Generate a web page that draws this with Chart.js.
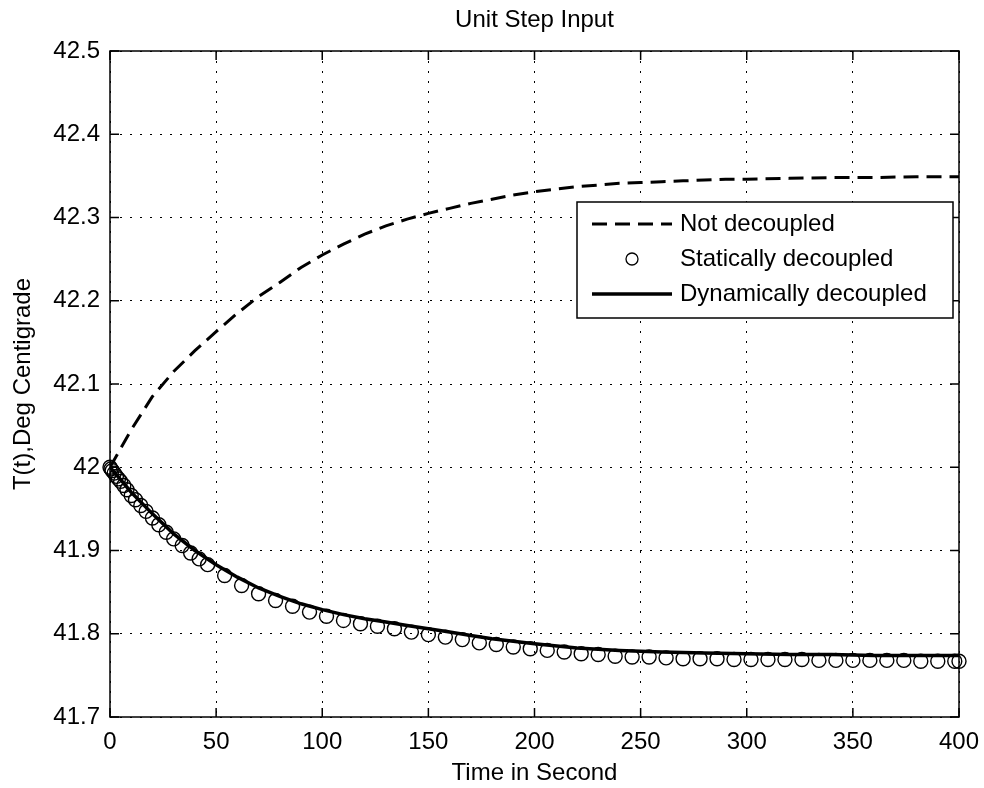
<!DOCTYPE html>
<html>
<head>
<meta charset="utf-8">
<script src="https://cdn.jsdelivr.net/npm/chart.js@4/dist/chart.umd.min.js"></script>
<style>
  html, body { margin: 0; padding: 0; background: #fff; }
  #wrap { width: 984px; height: 788px; }
</style>
</head>
<body>
<div id="wrap"><canvas id="chart" width="984" height="788"></canvas></div>
<script>
// values
const notTime = [0, 10, 20, 30, 40, 50, 60, 70, 80, 90, 100, 110, 120, 130, 140, 150, 160, 170, 180, 190, 200,
  210, 220, 230, 240, 250, 260, 270, 280, 290, 300, 320, 340, 360, 380, 400];
const notDecoupled = [42.000, 42.045, 42.085, 42.115, 42.140, 42.163, 42.185, 42.205, 42.222, 42.240, 42.255,
  42.268, 42.280, 42.290, 42.298, 42.305, 42.311, 42.317, 42.322, 42.327, 42.331,
  42.334, 42.337, 42.339, 42.341, 42.342, 42.343, 42.344, 42.345, 42.346, 42.346, 42.347, 42.348, 42.348, 42.349, 42.349];

const staticTime = [0, 0.5, 1, 2, 3, 4, 5, 6.5, 8, 10, 12, 14.5, 17, 20, 23, 26.5, 30, 34, 38, 42, 46,
  54, 62, 70, 78, 86, 94, 102, 110, 118, 126, 134, 142, 150, 158, 166, 174, 182, 190, 198,
  206, 214, 222, 230, 238, 246, 254, 262, 270, 278, 286, 294, 302, 310, 318, 326, 334, 342,
  350, 358, 366, 374, 382, 390, 398, 400];
const staticDecoupled = [42.000, 41.998, 41.996, 41.993, 41.989, 41.986, 41.983, 41.978, 41.973, 41.966, 41.961,
  41.954, 41.947, 41.939, 41.931, 41.922, 41.914, 41.906, 41.897, 41.890, 41.883,
  41.870, 41.858, 41.848, 41.840, 41.833, 41.826, 41.821, 41.816, 41.812, 41.809, 41.806, 41.802, 41.799,
  41.796, 41.793, 41.789, 41.787, 41.784, 41.782, 41.780, 41.778, 41.776, 41.775, 41.773, 41.772,
  41.772, 41.771, 41.770, 41.770, 41.770, 41.769, 41.769, 41.769, 41.769, 41.769, 41.768, 41.768,
  41.768, 41.768, 41.768, 41.768, 41.767, 41.767, 41.767, 41.767];

const dynTime = [0, 2, 5, 10, 20, 30, 40, 50, 60, 70, 80, 90, 100, 110, 120, 130, 140, 150, 160, 170, 180, 190, 200,
  220, 240, 260, 280, 300, 320, 340, 360, 380, 400];
const dynDecoupled = [42.000, 41.994, 41.985, 41.970, 41.944, 41.920, 41.900, 41.883, 41.868, 41.855, 41.845, 41.836,
  41.829, 41.823, 41.818, 41.814, 41.810, 41.806, 41.802, 41.798, 41.794, 41.791, 41.788,
  41.783, 41.780, 41.778, 41.777, 41.776, 41.775, 41.775, 41.774, 41.774, 41.774];

const seriesNames = ['Not decoupled', 'Statically decoupled', 'Dynamically decoupled'];
const chartTitle = 'Unit Step Input';

const FONT = '"Liberation Sans", Arial, sans-serif';
const toPoints = (xs, ys) => xs.map((x, i) => ({ x: x, y: ys[i] }));

// frame with inward ticks, like a matlab axes box
const boxPlugin = {
  id: 'box',
  afterDatasetsDraw(chart) {
    const { ctx, chartArea: a, scales } = chart;
    ctx.save();
    ctx.strokeStyle = '#000';
    ctx.lineWidth = 1.5;
    ctx.strokeRect(a.left, a.top, a.right - a.left, a.bottom - a.top);
    ctx.beginPath();
    scales.x.ticks.forEach(t => {
      const px = scales.x.getPixelForValue(t.value);
      ctx.moveTo(px, a.bottom); ctx.lineTo(px, a.bottom - 9);
      ctx.moveTo(px, a.top); ctx.lineTo(px, a.top + 9);
    });
    scales.y.ticks.forEach(t => {
      const py = scales.y.getPixelForValue(t.value);
      ctx.moveTo(a.left, py); ctx.lineTo(a.left + 9, py);
      ctx.moveTo(a.right, py); ctx.lineTo(a.right - 9, py);
    });
    ctx.stroke();
    ctx.restore();
  },
  afterDraw(chart) {
    const { ctx, chartArea: a } = chart;
    ctx.save();
    // title centred over the axes
    ctx.fillStyle = '#000';
    ctx.font = '24px ' + FONT;
    ctx.textAlign = 'center';
    ctx.textBaseline = 'middle';
    ctx.fillText(chartTitle, (a.left + a.right) / 2, 20);

    // legend box inside the axes, upper right
    const bx = 577, by = 202, bw = 376, bh = 116;
    ctx.fillStyle = '#fff';
    ctx.fillRect(bx, by, bw, bh);
    ctx.strokeStyle = '#000';
    ctx.lineWidth = 1.5;
    ctx.strokeRect(bx, by, bw, bh);
    const rows = [224, 259, 294];
    ctx.textAlign = 'left';
    chart.data.datasets.forEach((ds, i) => {
      const y = rows[i];
      ctx.strokeStyle = '#000';
      if (ds.pointRadius > 0) {
        ctx.lineWidth = 1.3;
        ctx.beginPath();
        ctx.arc(632, y, 6, 0, Math.PI * 2);
        ctx.stroke();
      } else {
        ctx.lineWidth = ds.borderWidth;
        ctx.setLineDash(ds.borderDash || []);
        ctx.beginPath();
        ctx.moveTo(592, y); ctx.lineTo(672, y);
        ctx.stroke();
        ctx.setLineDash([]);
      }
      ctx.fillStyle = '#000';
      ctx.fillText(ds.label, 680, y);
    });
    ctx.restore();
  }
};

new Chart(document.getElementById('chart'), {
  type: 'line',
  data: {
    datasets: [
      {
        label: seriesNames[0],
        data: toPoints(notTime, notDecoupled),
        borderColor: '#000', borderWidth: 3, borderDash: [15, 8],
        pointRadius: 0, tension: 0, fill: false
      },
      {
        label: seriesNames[1],
        data: toPoints(staticTime, staticDecoupled),
        showLine: false, borderColor: '#000', backgroundColor: 'rgba(0,0,0,0)',
        pointStyle: 'circle', pointRadius: 7, pointBorderWidth: 1.4, clip: false
      },
      {
        label: seriesNames[2],
        data: toPoints(dynTime, dynDecoupled),
        borderColor: '#000', borderWidth: 3.5,
        pointRadius: 0, tension: 0, fill: false
      }
    ]
  },
  options: {
    responsive: false,
    animation: false,
    layout: { padding: { top: 51, right: 25, bottom: 0, left: 0 } },
    plugins: {
      legend: { display: false },
      tooltip: { enabled: false },
      title: { display: false }
    },
    scales: {
      x: {
        type: 'linear', min: 0, max: 400,
        afterFit(s) { s.height = 71; s.paddingLeft = 0; s.paddingRight = 0; },
        ticks: { stepSize: 50, color: '#000', padding: 11, maxRotation: 0,
          font: { family: FONT, size: 24 } },
        grid: { color: '#000', lineWidth: 1, drawTicks: false },
        border: { display: false, dash: [2, 8] },
        title: { display: true, text: 'Time in Second', color: '#000',
          font: { family: FONT, size: 24 }, padding: { top: 0, bottom: 0 } }
      },
      y: {
        min: 41.7, max: 42.5,
        afterFit(s) { s.width = 110; s.paddingTop = 0; s.paddingBottom = 0; },
        ticks: { stepSize: 0.1, color: '#000', padding: 10,
          font: { family: FONT, size: 24 },
          callback: v => String(Number(v.toFixed(1))) },
        grid: { color: '#000', lineWidth: 1, drawTicks: false },
        border: { display: false, dash: [2, 8] },
        title: { display: true, text: 'T(t),Deg Centigrade', color: '#000',
          font: { family: FONT, size: 24 }, padding: { top: 9, bottom: 0 } }
      }
    }
  },
  plugins: [boxPlugin]
});
</script>
</body>
</html>
